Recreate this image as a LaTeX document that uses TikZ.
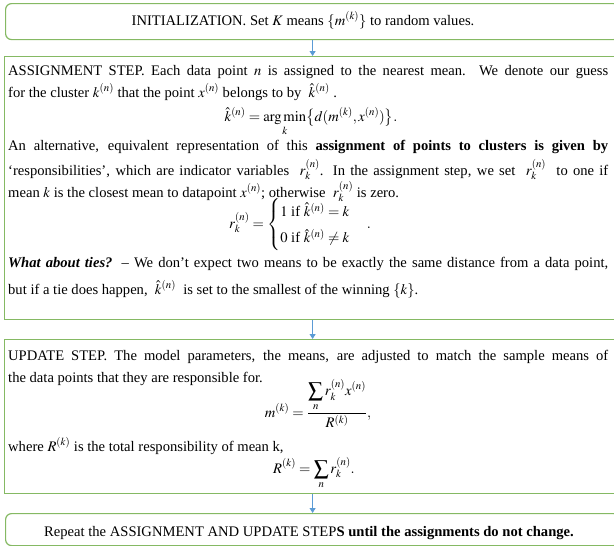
\documentclass[tikz,border=0pt]{standalone}
\usepackage{amsmath}
\usepackage{mathptmx}
\usepackage{fontspec}
\setmainfont{Liberation Serif}
\definecolor{kgreen}{HTML}{70AD47}
\definecolor{kblue}{HTML}{5B9BD5}
\usetikzlibrary{arrows.meta}

\begin{document}
\begin{tikzpicture}[x=1pt,y=-1pt,font=\fontsize{14.6}{22}\selectfont,
  bx/.style={draw=kgreen!85,line width=1.2pt,inner sep=0pt,anchor=north west},
  rbx/.style={bx,rounded corners=6pt},
  ln/.style={inner sep=0pt,anchor=base west},
  eq/.style={inner sep=0pt,anchor=base},
  arr/.style={-{Triangle[length=5pt,width=6pt]},draw=kblue,fill=kblue,line width=0.9pt}]
\path[use as bounding box,clip] (0,0) rectangle (614,546);
% the four boxes
\node[rbx,minimum width=614pt,minimum height=36pt] (init) at (5,3) {};
\node[bx,minimum width=616pt,minimum height=263pt] (assign) at (4,56) {};
\node[bx,minimum width=616pt,minimum height=154pt] (update) at (4,339) {};
\node[rbx,minimum width=614pt,minimum height=32pt] (rep) at (5,513) {};
\draw[arr] (init) -- (assign);
\draw[arr] (assign) -- (update);
\draw[arr] (update) -- (rep);
% initialization
\node[eq] (it) at (303,25) {INITIALIZATION. Set $K$ means $\{m^{(k)}\}$ to random values.};
% assignment step
\node[ln] (a1) at (8,75) {\makebox[600pt][s]{ASSIGNMENT STEP. Each data point $n$ is assigned to the nearest mean. We denote our guess}};
\node[ln] (a2) at (8,97) {for the cluster $k^{(n)}$ that the point $x^{(n)}$ belongs to by \ $\hat{k}^{(n)}$\ .};
\node[eq] (e1) at (311,121) {$\hat{k}^{(n)}=\mathop{\arg\min}\limits_{k}\bigl\{d(m^{(k)},x^{(n)})\bigr\}.$};
\node[ln] (a3) at (8,150) {\makebox[600pt][s]{An alternative, equivalent representation of this \textbf{assignment of points to clusters is given by}}};
\node[ln] (a4) at (8,175) {\makebox[600pt][s]{‘responsibilities’, which are indicator variables \ $r_k^{(n)}$. In the assignment step, we set \ $r_k^{(n)}$ \ to one if}};
\node[ln] (a5) at (8,197) {mean $k$ is the closest mean to datapoint $x^{(n)}$; otherwise \ $r_k^{(n)}$ is zero.};
\node[eq] (e2) at (300,228) {$r_k^{(n)}=\begin{cases}1\text{ if }\hat{k}^{(n)}=k\\ 0\text{ if }\hat{k}^{(n)}\neq k\end{cases}.$};
\node[ln] (a6) at (8,267) {\makebox[600pt][s]{\textbf{\textit{What about ties?}} – We don’t expect two means to be exactly the same distance from a data point,}};
\node[ln] (a7) at (8,294) {but if a tie does happen, \ $\hat{k}^{(n)}$ \ is set to the smallest of the winning $\{k\}$.};
% update step
\node[ln] (u1) at (8,360) {\makebox[600pt][s]{UPDATE STEP. The model parameters, the means, are adjusted to match the sample means of}};
\node[ln] (u2) at (8,382) {the data points that they are responsible for.};
\node[eq] (e3) at (318,417) {$m^{(k)}=\dfrac{\displaystyle\sum_{n} r_k^{(n)}x^{(n)}}{R^{(k)}},$};
\node[ln] (u3) at (8,451) {where $R^{(k)}$ is the total responsibility of mean k,};
\node[eq] (e4) at (314,473) {$\displaystyle R^{(k)}=\sum_{n} r_k^{(n)}.$};
% repeat
\node[eq] (rt) at (309,536) {Repeat the ASSIGNMENT AND UPDATE STEP\textbf{S until the assignments do not change.}};
\end{tikzpicture}
\end{document}
